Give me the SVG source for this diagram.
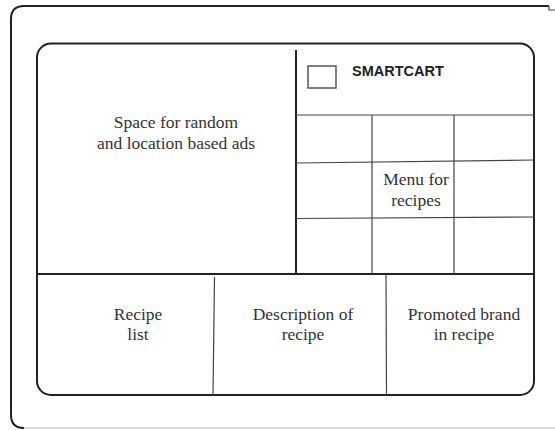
<svg xmlns="http://www.w3.org/2000/svg" width="555" height="430" viewBox="0 0 555 430">
<style>
.frame{fill:none;stroke:#222;stroke-width:2}
.div{fill:none;stroke:#222;stroke-width:2}
.grid{fill:none;stroke:#444;stroke-width:1.2}
.lbl{font-family:"Liberation Serif","Times New Roman",serif;font-size:17.5px;fill:#333;text-anchor:middle}
.brand{font-family:"Liberation Sans",Arial,sans-serif;font-size:14.5px;font-weight:bold;fill:#222}
</style>
<rect width="555" height="430" fill="#fff"/>
<g id="device">
<path class="frame" d="M549,6 H24 Q11,6 11,19 V415 Q11,428 24,428"/>
<path fill="none" stroke="#bbb" stroke-width="1" d="M24,428 H555"/>
<path fill="none" stroke="#444" stroke-width="1.2" d="M549,6 V10 H555"/>
</g>
<g id="screen">
<rect class="frame" x="37" y="43.5" width="497" height="351.5" rx="14" ry="14"/>
</g>
<g id="connectors">
<line class="div" x1="296" y1="50" x2="296" y2="274"/>
<line class="div" x1="38" y1="274" x2="534" y2="274"/>
<line class="grid" x1="296" y1="115" x2="534" y2="115"/>
<line class="grid" x1="372" y1="115" x2="372" y2="274"/>
<line class="grid" x1="454" y1="115" x2="454" y2="274"/>
<line class="grid" x1="296" y1="163" x2="534" y2="160"/>
<line class="grid" x1="296" y1="218.5" x2="534" y2="217"/>
<line class="grid" x1="214.5" y1="277" x2="213" y2="395"/>
<line class="grid" x1="386" y1="274" x2="386.5" y2="395"/>
</g>
<g id="ads">
<text class="lbl" x="176" y="128">Space for random</text>
<text class="lbl" x="176" y="149">and location based ads</text>
</g>
<g id="header">
<rect x="308" y="66" width="28" height="22" fill="none" stroke="#555" stroke-width="1.5"/>
<text class="brand" x="352" y="76">SMARTCART</text>
</g>
<g id="menu">
<text class="lbl" x="416" y="185">Menu for</text>
<text class="lbl" x="416" y="206">recipes</text>
</g>
<g id="recipe-list">
<text class="lbl" x="138" y="320">Recipe</text>
<text class="lbl" x="138" y="340">list</text>
</g>
<g id="description">
<text class="lbl" x="303" y="320">Description of</text>
<text class="lbl" x="303" y="340">recipe</text>
</g>
<g id="promoted">
<text class="lbl" x="464" y="320">Promoted brand</text>
<text class="lbl" x="464" y="340">in recipe</text>
</g>
</svg>
